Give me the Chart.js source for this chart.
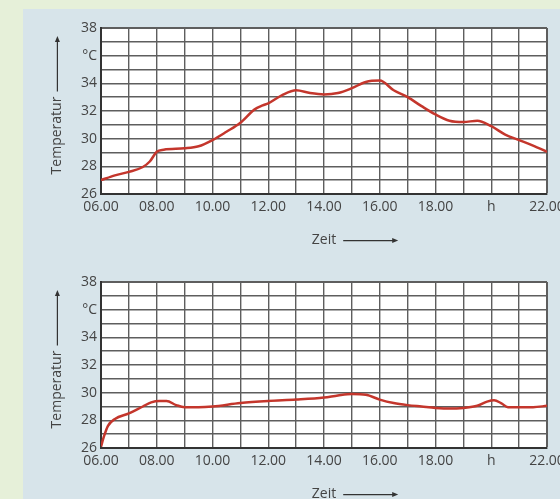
<!DOCTYPE html>
<html>
<head>
<meta charset="utf-8">
<script src="https://cdn.jsdelivr.net/npm/chart.js@4/dist/chart.umd.min.js"></script>
<style>
  html, body { margin: 0; padding: 0; }
  body { width: 560px; height: 499px; overflow: hidden; background: #e6f0d9; position: relative; }
  .panel { position: absolute; left: 23px; top: 9px; width: 537px; height: 490px; background: #d7e4ea; }
  .box { position: absolute; left: 23px; width: 560px; height: 245px; }
  #boxTop { top: 9px; }
  #boxBottom { top: 263px; }
</style>
</head>
<body>
<div class="panel"></div>
<div class="box" id="boxTop"><canvas id="chartTop"></canvas></div>
<div class="box" id="boxBottom"><canvas id="chartBottom"></canvas></div>
<script>
{
  // data
  const hoursTop = [6, 6.5, 7, 7.5, 7.75, 8, 8.25, 9, 9.5, 10, 10.5, 11, 11.5, 11.8, 12, 12.5, 13, 13.5, 14,
    14.5, 15, 15.5, 16, 16.5, 17, 17.5, 18, 18.5, 19, 19.5, 20, 20.5, 21, 21.5, 22];
  const tempTop = [27.0, 27.35, 27.6, 27.95, 28.35, 29.05, 29.2, 29.3, 29.45, 29.9, 30.5, 31.15, 32.1, 32.4, 32.55, 33.15, 33.5, 33.3, 33.2,
    33.3, 33.65, 34.1, 34.2, 33.5, 33.0, 32.35, 31.75, 31.3, 31.2, 31.3, 30.9, 30.3, 29.9, 29.5, 29.05];

  const hoursBottom = [6, 6.1, 6.25, 6.5, 7, 7.5, 7.8, 8.1, 8.35, 8.7, 9, 9.5, 10, 11, 12, 13, 14, 14.5,
    15, 15.5, 16, 16.5, 17, 17.5, 18, 18.5, 19, 19.5, 19.85, 20.1, 20.35, 20.6, 21, 21.5, 22];
  const tempBottom = [26.1, 26.8, 27.6, 28.1, 28.5, 29.0, 29.3, 29.4, 29.4, 29.1, 28.95, 28.95, 29.0, 29.25, 29.4, 29.5, 29.65, 29.8,
    29.9, 29.85, 29.5, 29.25, 29.1, 29.0, 28.9, 28.85, 28.9, 29.05, 29.35, 29.45, 29.25, 28.95, 28.95, 28.95, 29.05];

  // axis labels
  const hourMin = 6, hourMax = 22;
  const tempMin = 26, tempMax = 38;
  const hourLabels = { 6: '06.00', 8: '08.00', 10: '10.00', 12: '12.00', 14: '14.00', 16: '16.00', 18: '18.00', 20: 'h', 22: '22.00' };
  const tempLabels = { 26: '26', 28: '28', 30: '30', 32: '32', 34: '34', 36: '°C', 38: '38' };
  const xTitle = 'Zeit';
  const yTitle = 'Temperatur';

  const FONT = { family: '"Open Sans", sans-serif', size: 14 };
  const TEXT = '#444';
  const GRID = '#5e5e5e';
  const LINE = '#c4362c';

  //white plot area + arrows after the axis titles
  const plotFrame = {
    id: 'plotFrame',
    beforeDraw(chart) {
      const a = chart.chartArea;
      const ctx = chart.ctx;
      ctx.save();
      ctx.fillStyle = '#ffffff';
      ctx.fillRect(a.left, a.top, a.right - a.left, a.bottom - a.top);
      ctx.restore();
    },
    afterDraw(chart) {
      const a = chart.chartArea;
      const ctx = chart.ctx;
      const ys = chart.scales.y;
      const xs = chart.scales.x;
      ctx.save();
      ctx.font = FONT.size + 'px ' + FONT.family;
      ctx.strokeStyle = '#333';
      ctx.fillStyle = '#333';
      ctx.lineWidth = 1.2;

      // y arrow, pointing up
      const lh = FONT.size * 1.2;
      const yOpt = ys.options.title;
      const full = ctx.measureText(yOpt.text).width;
      const word = ctx.measureText(yTitle).width;
      const cy = (a.top + a.bottom) / 2;
      const ax = ys.left + lh / 2 + yOpt.padding.top;
      const from = cy + full / 2 - word - 5;
      const tip = a.top + 8;
      ctx.beginPath();
      ctx.moveTo(ax, from);
      ctx.lineTo(ax, tip + 5);
      ctx.stroke();
      ctx.beginPath();
      ctx.moveTo(ax, tip);
      ctx.lineTo(ax - 2.5, tip + 6);
      ctx.lineTo(ax + 2.5, tip + 6);
      ctx.closePath();
      ctx.fill();

      // x arrow, pointing right
      const xOpt = xs.options.title;
      const zw = ctx.measureText(xTitle).width;
      const cx = (a.left + a.right) / 2;
      const by = xs.bottom - lh / 2 - xOpt.padding.bottom + 1;
      const start = cx + zw / 2 + 7;
      const end = start + 55;
      ctx.beginPath();
      ctx.moveTo(start, by);
      ctx.lineTo(end - 5, by);
      ctx.stroke();
      ctx.beginPath();
      ctx.moveTo(end, by);
      ctx.lineTo(end - 6, by - 2.5);
      ctx.lineTo(end - 6, by + 2.5);
      ctx.closePath();
      ctx.fill();
      ctx.restore();
    }
  };

  function makeChart(canvasId, hours, temps) {
    const points = hours.map(function (h, i) {
      return { x: h, y: temps[i] };
    });

    return new Chart(document.getElementById(canvasId), {
      type: 'line',
      data: {
        datasets: [{
          data: points,
          borderColor: LINE,
          borderWidth: 2.5,
          pointRadius: 0,
          tension: 0.4,
          cubicInterpolationMode: 'monotone',
          fill: false
        }]
      },
      options: {
        responsive: true,
        maintainAspectRatio: false,
        animation: false,
        events: [],
        layout: { padding: { left: 0, right: 36, top: 19, bottom: 0 } },
        plugins: { legend: { display: false }, tooltip: { enabled: false } },
        scales: {
          x: {
            type: 'linear',
            min: hourMin,
            max: hourMax,
            afterFit: function (scale) { scale.height = 60; },
            ticks: {
              stepSize: 1,
              autoSkip: false,
              maxRotation: 0,
              padding: 5,
              color: TEXT,
              font: FONT,
              callback: function (v) { return hourLabels[v] || ''; }
            },
            grid: {
              drawTicks: false,
              color: GRID,
              lineWidth: function (c) { return c.tick && c.tick.value === hourMax ? 2 : 1.4; }
            },
            border: { display: true, color: '#333', width: 2 },
            title: { display: true, text: xTitle, color: TEXT, font: FONT, padding: { top: 0, bottom: 6 } }
          },
          y: {
            type: 'linear',
            min: tempMin,
            max: tempMax,
            afterFit: function (scale) { scale.width = 78; },
            ticks: {
              stepSize: 1,
              autoSkip: false,
              padding: 4,
              color: TEXT,
              font: FONT,
              callback: function (v) { return tempLabels[v] || ''; }
            },
            grid: {
              drawTicks: false,
              color: GRID,
              lineWidth: function (c) { return c.tick && c.tick.value === tempMax ? 2 : 1.4; }
            },
            border: { display: true, color: '#333', width: 2 },
            title: {
              display: true,
              text: yTitle + '\u2003\u2003\u2003\u2002',
              color: TEXT,
              font: FONT,
              padding: { top: 26, bottom: 0 }
            }
          }
        }
      },
      plugins: [plotFrame]
    });
  }

  makeChart('chartTop', hoursTop, tempTop);
  makeChart('chartBottom', hoursBottom, tempBottom);
}
</script>
</body>
</html>
